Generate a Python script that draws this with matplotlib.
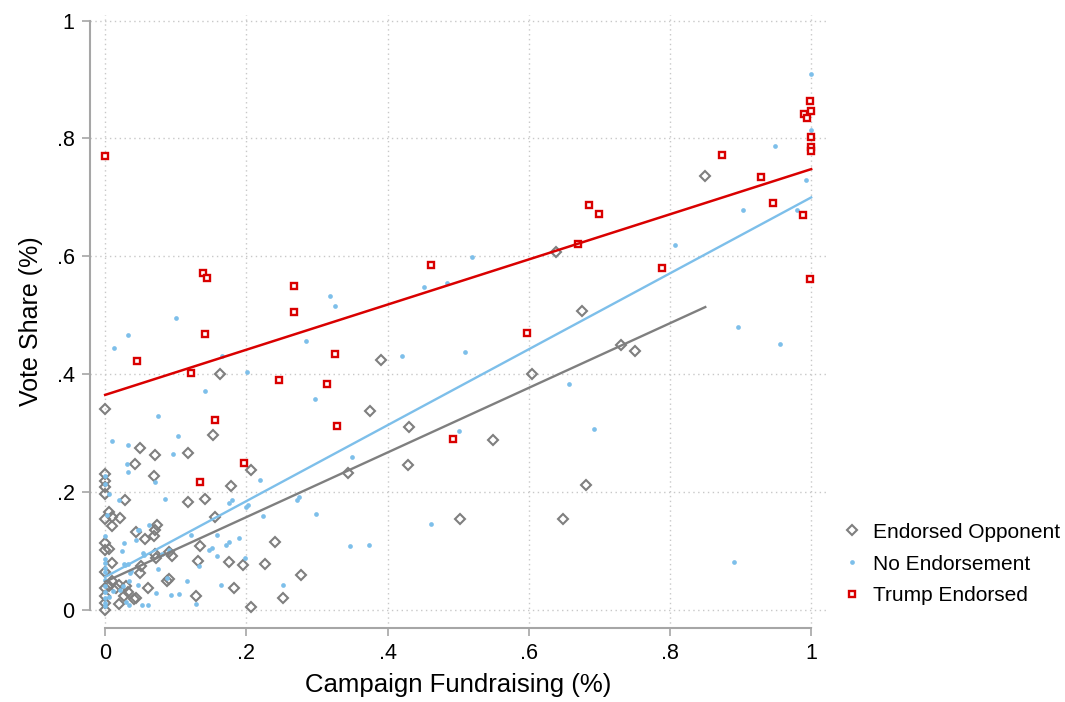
import matplotlib
matplotlib.use("Agg")
import matplotlib.pyplot as plt
from matplotlib.lines import Line2D

plt.rcParams['font.family'] = ['Liberation Sans', 'DejaVu Sans']

# Endorsed Opponent
eo_x = [0, 0, 0, 0, 0, 0, 0, 0, 0, 0, 0, 0, 0,
        0.005, 0.010, 0.021, 0.009, 0.005, 0.009, 0.010, 0.016, 0.030, 0.032,
        0.027, 0.020, 0.006, 0.020, 0.041,
        0.050, 0.071, 0.118, 0.042, 0.069, 0.028, 0.117, 0.073, 0.071, 0.044,
        0.069, 0.057, 0.094, 0.072, 0.051, 0.050, 0.061, 0.087, 0.090, 0.043,
        0.071, 0.090,
        0.153, 0.207, 0.178, 0.142, 0.156, 0.134, 0.240, 0.131, 0.176, 0.195,
        0.226, 0.277, 0.182, 0.252, 0.206, 0.128, 0.163,
        0.390, 0.375, 0.430, 0.429, 0.344, 0.550, 0.604, 0.675, 0.639, 0.503,
        0.648, 0.681, 0.850, 0.731, 0.750]
eo_y = [0.341, 0.230, 0.219, 0.208, 0.196, 0.154, 0.114, 0.102, 0.065, 0.037, 0.023, 0.012, 0.000,
        0.167, 0.158, 0.156, 0.142, 0.103, 0.080, 0.049, 0.037, 0.041, 0.031,
        0.024, 0.010, 0.041, 0.042, 0.019,
        0.275, 0.263, 0.267, 0.247, 0.227, 0.186, 0.183, 0.145, 0.136, 0.133,
        0.125, 0.120, 0.091, 0.089, 0.075, 0.063, 0.038, 0.049, 0.052, 0.020,
        0.095, 0.099,
        0.297, 0.238, 0.210, 0.188, 0.157, 0.109, 0.115, 0.084, 0.081, 0.076,
        0.078, 0.059, 0.037, 0.021, 0.005, 0.023, 0.400,
        0.425, 0.338, 0.311, 0.246, 0.233, 0.288, 0.401, 0.508, 0.608, 0.154,
        0.154, 0.212, 0.737, 0.449, 0.439]

# No Endorsement
ne_x = [0, 0, 0, 0, 0, 0, 0, 0, 0, 0, 0, 0, 0,
        0.002, 0.006, 0.020, 0.009, 0.032, 0.103, 0.096, 0.031, 0.033, 0.071,
        0.085, 0.026, 0.024, 0.062, 0.048, 0.043, 0.054, 0.080, 0.090, 0.027,
        0.033, 0.036, 0.075, 0.034, 0.025, 0.021, 0.011, 0.072, 0.093, 0.105,
        0.116, 0.087, 0.052, 0.060, 0.030, 0.034, 0.006, 0.047, 0.121, 0.055,
        0.035, 0.047, 0.028,
        0.100, 0.032, 0.013, 0.165, 0.201, 0.141, 0.075, 0.284, 0.297,
        0.219, 0.180, 0.176, 0.202, 0.199, 0.223, 0.271, 0.275, 0.298, 0.159,
        0.190, 0.175, 0.171, 0.152, 0.147, 0.159, 0.198, 0.133, 0.164, 0.252,
        0.128,
        0.520, 0.484, 0.452, 0.318, 0.326, 0.420, 0.509, 0.657, 0.692, 0.501,
        0.349, 0.462, 0.347, 0.374,
        1.000, 1.000, 0.949, 0.993, 0.904, 0.980, 0.807, 0.897, 0.956, 0.890]
ne_y = [0.228, 0.213, 0.125, 0.086, 0.080, 0.071, 0.065, 0.051, 0.041, 0.031, 0.020, 0.012, 0.006,
        0.162, 0.197, 0.186, 0.286, 0.280, 0.296, 0.264, 0.247, 0.234, 0.218,
        0.189, 0.113, 0.100, 0.145, 0.135, 0.118, 0.097, 0.095, 0.102, 0.078,
        0.078, 0.067, 0.070, 0.050, 0.041, 0.034, 0.033, 0.029, 0.025, 0.027,
        0.050, 0.054, 0.009, 0.008, 0.014, 0.009, 0.022, 0.136, 0.127, 0.094,
        0.063, 0.043, 0.076,
        0.496, 0.466, 0.445, 0.431, 0.404, 0.371, 0.330, 0.457, 0.358,
        0.221, 0.187, 0.181, 0.179, 0.174, 0.160, 0.186, 0.192, 0.163, 0.127,
        0.122, 0.116, 0.110, 0.106, 0.102, 0.092, 0.089, 0.075, 0.043, 0.043,
        0.011,
        0.599, 0.555, 0.548, 0.533, 0.515, 0.431, 0.437, 0.384, 0.307, 0.303,
        0.260, 0.146, 0.109, 0.110,
        0.909, 0.815, 0.787, 0.730, 0.678, 0.679, 0.619, 0.481, 0.452, 0.082]

# Trump Endorsed
te_x = [0.000, 0.045, 0.138, 0.144, 0.142, 0.122, 0.155, 0.268, 0.268, 0.246,
        0.325, 0.314, 0.329, 0.461, 0.493, 0.598, 0.670, 0.874, 0.929, 0.946,
        0.988, 0.998, 0.685, 0.700, 0.789, 0.999, 1.000, 0.990, 0.994, 1.000,
        1.000, 1.000, 0.135, 0.197]
te_y = [0.770, 0.423, 0.572, 0.563, 0.468, 0.402, 0.322, 0.550, 0.505, 0.390,
        0.435, 0.384, 0.312, 0.586, 0.291, 0.470, 0.621, 0.772, 0.734, 0.690,
        0.671, 0.561, 0.687, 0.672, 0.581, 0.864, 0.846, 0.841, 0.834, 0.803,
        0.785, 0.779, 0.218, 0.249]

# Linear fit endpoints per group
fit_eo_x, fit_eo_y = [0.0, 0.85], [0.048, 0.514]
fit_ne_x, fit_ne_y = [0.0, 1.0], [0.056, 0.700]
fit_te_x, fit_te_y = [0.0, 1.0], [0.365, 0.748]

ticks = [0, 0.2, 0.4, 0.6, 0.8, 1.0]
tick_labels = ["0", ".2", ".4", ".6", ".8", "1"]

c_eo = "#7f7f7f"
c_ne = "#7dbfea"
c_te = "#d90000"
c_axis = "#a6a6a6"

fig = plt.figure(figsize=(10.65, 7.02), dpi=100)
ax = fig.add_axes([90 / 1065, 1 - 628 / 702, (826 - 90) / 1065, (628 - 15) / 702])

ax.set_xlim(-0.0215, 1.021)
ax.set_ylim(-0.0305, 1.0095)

ax.grid(True, color="#c8c8c8", linestyle=(0, (1, 2.5)), linewidth=1.0)
ax.set_axisbelow(True)

eo_style = dict(linestyle="none", marker="D", markersize=5.2, markerfacecolor="none",
                markeredgecolor=c_eo, markeredgewidth=1.5)
ne_style = dict(linestyle="none", marker="o", markersize=3.4, markerfacecolor=c_ne,
                markeredgecolor="none")
te_style = dict(linestyle="none", marker="s", markersize=5.0, markerfacecolor="white",
                markeredgecolor=c_te, markeredgewidth=1.7)

ax.plot(eo_x, eo_y, zorder=3, **eo_style)
ax.plot(ne_x, ne_y, zorder=3, **ne_style)
ax.plot(te_x, te_y, zorder=4, **te_style)

ax.plot(fit_eo_x, fit_eo_y, color=c_eo, linewidth=1.7, zorder=5)
ax.plot(fit_ne_x, fit_ne_y, color=c_ne, linewidth=1.7, zorder=5)
ax.plot(fit_te_x, fit_te_y, color=c_te, linewidth=1.8, zorder=5)

for side in ("top", "right"):
    ax.spines[side].set_visible(False)
for side in ("left", "bottom"):
    ax.spines[side].set_color(c_axis)
    ax.spines[side].set_linewidth(1.5)
    ax.spines[side].set_bounds(0, 1)

ax.set_xticks(ticks)
ax.set_xticklabels(tick_labels)
ax.set_yticks(ticks)
ax.set_yticklabels(tick_labels, rotation=0)
ax.tick_params(axis="both", colors=c_axis, labelcolor="black", length=6,
               width=1.2, labelsize=15.5, pad=5)

ax.set_xlabel("Campaign Fundraising (%)", fontsize=18.5, labelpad=6)
ax.set_ylabel("Vote Share (%)", fontsize=18, labelpad=10)

handles = [Line2D([], [], **eo_style), Line2D([], [], **ne_style), Line2D([], [], **te_style)]
labels = ["Endorsed Opponent", "No Endorsement", "Trump Endorsed"]
fig.legend(handles, labels, loc="center left", bbox_to_anchor=(834 / 1065, 1 - 564 / 702),
           frameon=False, fontsize=15, handlelength=0.7, handletextpad=0.69,
           labelspacing=0.62, borderpad=0)

fig.savefig("out.png", dpi=100)
